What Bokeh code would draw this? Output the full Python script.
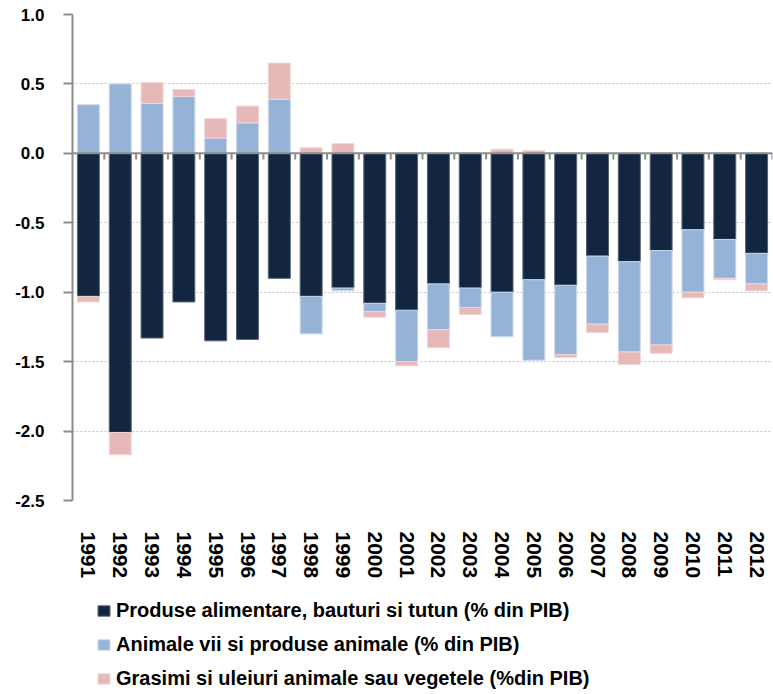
import numpy as np
from bokeh.plotting import figure
from bokeh.layouts import column
from bokeh.models import (ColumnDataSource, Range1d, FactorRange, FixedTicker, NumeralTickFormatter,
                          Span, Legend, LegendItem)
from bokeh.transform import dodge
from bokeh.embed import file_html
from bokeh.resources import INLINE

years = ["1991", "1992", "1993", "1994", "1995", "1996", "1997", "1998", "1999", "2000", "2001",
         "2002", "2003", "2004", "2005", "2006", "2007", "2008", "2009", "2010", "2011", "2012"]

produse = [-1.03, -2.01, -1.33, -1.07, -1.35, -1.34, -0.90, -1.03, -0.97, -1.08, -1.13,
           -0.94, -0.97, -1.00, -0.91, -0.95, -0.74, -0.78, -0.70, -0.55, -0.62, -0.72]
animale = [0.35, 0.50, 0.36, 0.41, 0.11, 0.22, 0.39, -0.27, -0.02, -0.06, -0.37,
           -0.33, -0.14, -0.32, -0.58, -0.50, -0.49, -0.65, -0.68, -0.45, -0.28, -0.22]
grasimi = [-0.04, -0.16, 0.15, 0.05, 0.14, 0.12, 0.26, 0.04, 0.07, -0.04, -0.03,
           -0.13, -0.05, 0.03, 0.02, -0.02, -0.06, -0.09, -0.06, -0.04, -0.01, -0.05]

series_names = ["Produse alimentare, bauturi si tutun (% din PIB)",
                "Animale vii si produse animale (% din PIB)",
                "Grasimi si uleiuri animale sau vegetele (%din PIB)"]
y_ticks = [-2.5, -2.0, -1.5, -1.0, -0.5, 0.0, 0.5, 1.0]

colors = ["#12263F", "#95B3D7", "#E6B8B7"]
edge_colors = ["#55647a", "#c9d8ec", "#f2d6d6"]
FONT = "Liberation Sans"

# ---------------- main chart ----------------
p = figure(x_range=FactorRange(*years), y_range=Range1d(-2.5, 1.0),
           width=773, height=595,
           min_border_left=72, min_border_top=14, min_border_right=1, min_border_bottom=95,
           output_backend="svg", toolbar_location=None)

p.outline_line_color = None
p.xgrid.grid_line_color = None
p.ygrid.grid_line_color = "#c4c4c4"
p.ygrid.grid_line_dash = "2 2"
p.ygrid.grid_line_width = 1

pos = np.zeros(len(years))
neg = np.zeros(len(years))
for vals, col, ec in zip([produse, animale, grasimi], colors, edge_colors):
    v = np.array(vals)
    bottom = np.where(v >= 0, pos, neg)
    top = bottom + v
    pos = pos + np.clip(v, 0, None)
    neg = neg + np.clip(v, None, 0)
    src = ColumnDataSource(dict(x=years, bottom=bottom, top=top))
    p.vbar(x="x", bottom="bottom", top="top", width=0.69, source=src,
           fill_color=col, line_color=ec, line_width=1)

# zero line and category ticks on it
p.add_layout(Span(location=0, dimension="width", line_color="#8c8c8c", line_width=2))
tick_src = ColumnDataSource(dict(x=years, y0=[0.0] * len(years), y1=[-0.045] * len(years)))
p.segment(x0=dodge("x", 0.5, range=p.x_range), x1=dodge("x", 0.5, range=p.x_range),
          y0="y0", y1="y1", source=tick_src, line_color="#8c8c8c", line_width=2)

# y axis
yax = p.yaxis[0]
yax.ticker = FixedTicker(ticks=y_ticks)
yax.formatter = NumeralTickFormatter(format="0.0")
yax.axis_line_color = "#8c8c8c"
yax.axis_line_width = 2
yax.major_tick_line_color = "#8c8c8c"
yax.major_tick_line_width = 2
yax.major_tick_in = 0
yax.major_tick_out = 9
yax.minor_tick_line_color = None
yax.major_label_standoff = 19
yax.major_label_text_font = FONT
yax.major_label_text_font_style = "bold"
yax.major_label_text_font_size = "17px"
yax.major_label_text_color = "#000000"

# x axis (labels only, at the bottom)
xax = p.xaxis[0]
xax.axis_line_color = None
xax.major_tick_line_color = None
xax.major_tick_in = 0
xax.major_tick_out = 0
xax.minor_tick_line_color = None
xax.major_label_orientation = "vertical"
xax.major_label_standoff = 31
xax.major_label_text_font = FONT
xax.major_label_text_font_style = "bold"
xax.major_label_text_font_size = "21px"
xax.major_label_text_color = "#000000"

# ---------------- legend strip ----------------
q = figure(x_range=Range1d(0, 1), y_range=Range1d(0, 1),
           width=773, height=99, min_border_left=72, min_border_top=0,
           min_border_right=1, min_border_bottom=0,
           x_axis_location=None, y_axis_location=None,
           output_backend="svg", toolbar_location=None)
q.outline_line_color = None
q.grid.grid_line_color = None
items = []
for name, col, ec in zip(series_names, colors, edge_colors):
    # legend swatches only: the single row holds no drawable value
    r = q.vbar(x="x", top="top", width=0.5,
               source=ColumnDataSource(dict(x=[0.5], top=[np.nan])),
               fill_color=col, line_color=ec, line_width=1)
    items.append(LegendItem(label=name, renderers=[r]))

legend = Legend(items=items, orientation="vertical", location=(24, 4),
                label_text_font=FONT, label_text_font_style="bold",
                label_text_font_size="20px", label_text_color="#000000",
                glyph_width=15, glyph_height=13, label_standoff=5,
                label_height=22, spacing=11, padding=0, margin=0,
                border_line_alpha=0, background_fill_alpha=0)
q.add_layout(legend, "center")

layout = column(p, q, spacing=0)
open("out.html", "w").write(file_html(layout, INLINE))
